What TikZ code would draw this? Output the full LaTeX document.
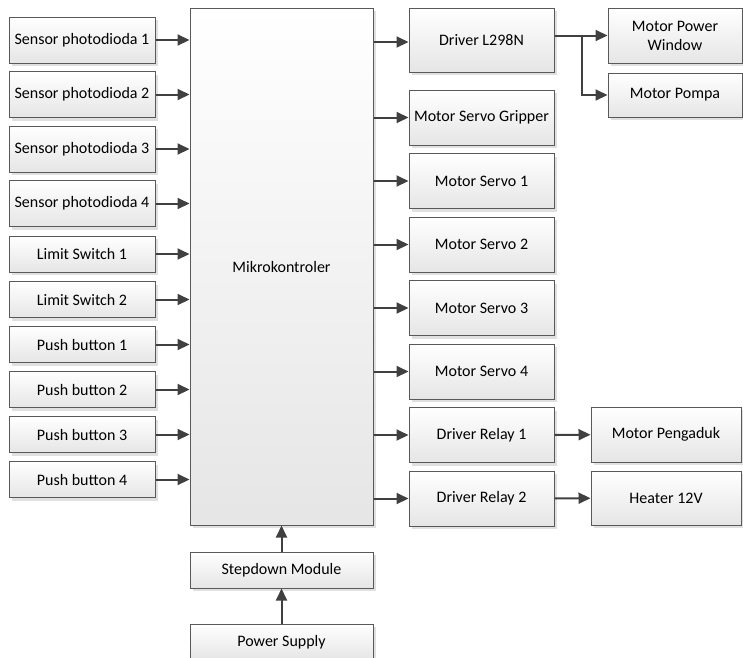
\documentclass[tikz,border=0pt]{standalone}
\usepackage{fontspec}
\setmainfont{Carlito}
\usetikzlibrary{arrows.meta,shadows}

\begin{document}
\begin{tikzpicture}[x=1pt, y=-1pt, every node/.style={font=\fontsize{16}{19}\selectfont},
	>={Triangle[length=12pt,width=11pt]},
	blok/.style={draw=black!65, line width=1pt, top color=white, bottom color=black!10, align=center, inner sep=0pt,
		drop shadow={shadow xshift=3pt, shadow yshift=-3pt, fill=black!12, opacity=1}},
	panah/.style={->, draw=black!75, line width=2pt}]
	\useasboundingbox (0,0) rectangle (743,657);
	\node[blok, minimum width=183pt, minimum height=517pt] (mcu) at (281.5,266.5) {Mikrokontroler};
	\node[blok, minimum width=183pt, minimum height=36pt] (sd) at (281.5,570) {Stepdown Module};
	\node[blok, minimum width=183pt, minimum height=36pt] (ps) at (281.5,642) {Power Supply};
	\foreach \n/\y/\h/\txt in {s1/40/46/Sensor photodioda 1, s2/94.5/46/Sensor photodioda 2,
		s3/149/46/Sensor photodioda 3, s4/203.5/46/Sensor photodioda 4,
		ls1/254/36/Limit Switch 1, ls2/299.5/36/Limit Switch 2, pb1/344.5/36/Push button 1,
		pb2/389.5/36/Push button 2, pb3/434.5/36/Push button 3, pb4/479.5/36/Push button 4} {
		\node[blok, minimum width=146pt, minimum height=\h pt] (\n) at (82,\y) {\txt};
		\draw[panah] (\n.east) -- (\n.east -| mcu.west);
	}
	\node[blok, minimum width=145pt, minimum height=64pt] (drv) at (481.5,40) {Driver L298N};
	\foreach \n/\k/\txt in {msg/0/Motor Servo Gripper, ms1/1/Motor Servo 1, ms2/2/Motor Servo 2,
		ms3/3/Motor Servo 3, ms4/4/Motor Servo 4, dr1/5/Driver Relay 1, dr2/6/Driver Relay 2} {
		\node[blok, minimum width=145pt, minimum height=55pt] (\n) at (481.5,117.5+63.5*\k) {\txt};
		\draw[panah] (mcu.east |- \n) -- (\n.west);
	}
	\draw[panah] (mcu.east |- 0,42) -- (drv.west |- 0,42);
	\node[blok, minimum width=134pt, minimum height=55pt] (mpw) at (675,35.5) {Motor Power\\Window};
	\node[blok, minimum width=134pt, minimum height=44pt] (pompa) at (675,95) {Motor Pompa};
	\node[blok, minimum width=150pt, minimum height=55pt] (aduk) at (666,434.5) {Motor Pengaduk};
	\node[blok, minimum width=150pt, minimum height=54pt] (heater) at (666,498) {Heater 12V};
	\coordinate (cab) at (582,35.5);
	\draw[panah] (drv.east |- mpw) -- (mpw.west);
	\draw[panah] (cab) |- (pompa.west);
	\draw[panah] (dr1) -- (aduk);
	\draw[panah] (dr2) -- (heater);
	\draw[panah] (ps) -- (sd);
	\draw[panah] (sd) -- (mcu);
\end{tikzpicture}
\end{document}
